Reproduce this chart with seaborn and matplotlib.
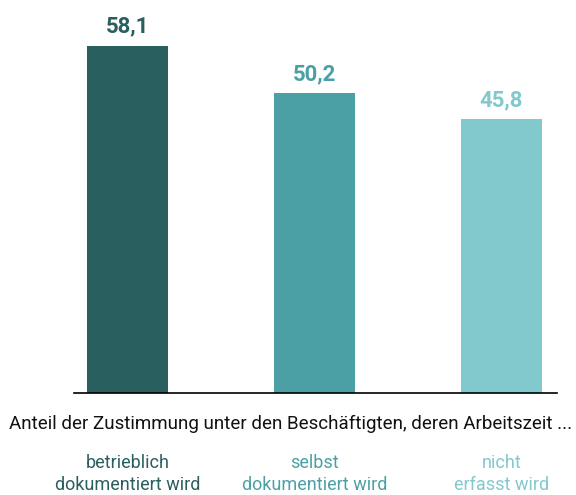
import matplotlib
matplotlib.use("Agg")
import matplotlib.pyplot as plt
import seaborn as sns
import pandas as pd

# Daten
categories = ["betrieblich\ndokumentiert wird", "selbst\ndokumentiert wird", "nicht\nerfasst wird"]
values = [58.1, 50.2, 45.8]
colors = ["#2a5f60", "#4ba0a6", "#82c9ce"]
caption = "Anteil der Zustimmung unter den Beschäftigten, deren Arbeitszeit ..."

sns.set_theme(style="white")
plt.rcParams['font.family'] = ['Liberation Sans Narrow', 'Roboto', 'DejaVu Sans']

df = pd.DataFrame({"Kategorie": categories, "Wert": values})

fig = plt.figure(figsize=(5.76, 4.95), dpi=100)
ax = fig.add_axes([74 / 576, 1 - 393 / 495, (557 - 74) / 576, 393 / 495])

sns.barplot(data=df, x="Kategorie", y="Wert", hue="Kategorie", palette=colors,
            width=0.43, saturation=1, legend=False, linewidth=0, ax=ax)

ax.set_xlim(-0.286, 2.297)
ax.set_ylim(0, 393 / 5.98)

# Werte über den Balken
for i, (v, c) in enumerate(zip(values, colors)):
    ax.text(i, v + 1.3, f"{v:.1f}".replace(".", ","), ha="center", va="bottom",
            fontsize=16, fontweight="bold", color=c)

for s in ["top", "right", "left"]:
    ax.spines[s].set_visible(False)
ax.spines["bottom"].set_color("black")
ax.spines["bottom"].set_linewidth(1.2)
ax.set_yticks([])
ax.set_xlabel("")
ax.set_ylabel("")
ax.set_xticks([])

fig.text(291 / 576, 1 - 424 / 495, caption, ha="center", va="center",
         fontsize=13.5, color="#111111")

# Kategorien unter der Achse
for i, (cat, c) in enumerate(zip(categories, colors)):
    xf = ax.transData.transform((i, 0))[0] / fig.bbox.width
    fig.text(xf, 1 - 474 / 495, cat, ha="center", va="center",
             fontsize=13, color=c, linespacing=1.3)

fig.savefig("out.png", dpi=100)
